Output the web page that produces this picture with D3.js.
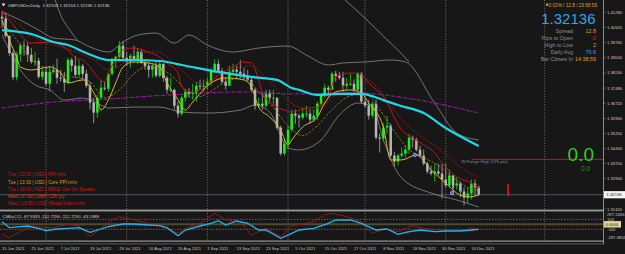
<!DOCTYPE html>
<html><head><meta charset="utf-8">
<script src="https://cdn.jsdelivr.net/npm/d3@7"></script>
<style>html,body{margin:0;padding:0;background:#171717;overflow:hidden}svg{display:block}</style>
</head><body><svg id="c" width="625" height="254"></svg>
<script>
// ---------- DATA ----------
const symbolTitle = "GBPUSDn,Daily  1.32153 1.32153 1.32136 1.32136";
const dateTickIdx = [0,8,16,24,32,40,48,56,64,72,80,88,96,104,112,120,128];
const dateTickLabels = ["15 Jun 2021","25 Jun 2021","7 Jul 2021","19 Jul 2021","29 Jul 2021","10 Aug 2021","20 Aug 2021","1 Sep 2021","13 Sep 2021","23 Sep 2021","5 Oct 2021","15 Oct 2021","27 Oct 2021","8 Nov 2021","18 Nov 2021","30 Nov 2021","10 Dec 2021"];
const separatorIdx = [12,34,56,78,99,121,148];
const priceTicks = [1.41280,1.40520,1.39760,1.39000,1.38240,1.37480,1.36720,1.35960,1.35200,1.34450,1.33700,1.32940,1.31420];
const currentPrice = 1.32136;
// open, high, low, close
const ohlc = [
[1.4106,1.4133,1.4050,1.4097],[1.4097,1.4128,1.4000,1.4010],[1.4010,1.4012,1.3910,1.3924],[1.3924,1.3935,1.3787,1.3802],
[1.3802,1.3930,1.3786,1.3917],[1.3917,1.3975,1.3880,1.3962],[1.3962,1.3986,1.3910,1.3958],[1.3958,1.3976,1.3880,1.3915],
[1.3915,1.3950,1.3870,1.3880],[1.3880,1.3930,1.3860,1.3885],[1.3885,1.3900,1.3795,1.3805],[1.3805,1.3845,1.3790,1.3830],
[1.3830,1.3850,1.3760,1.3770],[1.3770,1.3860,1.3730,1.3830],[1.3830,1.3865,1.3820,1.3840],[1.3840,1.3895,1.3770,1.3800],
[1.3800,1.3840,1.3780,1.3795],[1.3795,1.3830,1.3730,1.3775],[1.3775,1.3900,1.3770,1.3890],[1.3890,1.3900,1.3830,1.3860],
[1.3860,1.3910,1.3800,1.3815],[1.3815,1.3890,1.3800,1.3860],[1.3860,1.3870,1.3790,1.3820],[1.3820,1.3840,1.3750,1.3760],
[1.3760,1.3780,1.3640,1.3675],[1.3675,1.3700,1.3572,1.3625],[1.3625,1.3715,1.3600,1.3700],[1.3700,1.3785,1.3690,1.3750],
[1.3750,1.3780,1.3735,1.3745],[1.3745,1.3820,1.3730,1.3820],[1.3820,1.3900,1.3810,1.3890],[1.3890,1.3910,1.3850,1.3905],
[1.3905,1.3985,1.3880,1.3960],[1.3960,1.3983,1.3880,1.3900],[1.3900,1.3930,1.3860,1.3880],[1.3880,1.3920,1.3850,1.3910],
[1.3910,1.3960,1.3880,1.3890],[1.3890,1.3950,1.3870,1.3930],[1.3930,1.3940,1.3870,1.3875],[1.3875,1.3890,1.3840,1.3860],
[1.3860,1.3880,1.3800,1.3840],[1.3840,1.3870,1.3800,1.3860],[1.3860,1.3880,1.3800,1.3810],[1.3810,1.3880,1.3800,1.3870],
[1.3870,1.3870,1.3780,1.3800],[1.3800,1.3810,1.3720,1.3740],[1.3740,1.3800,1.3730,1.3740],[1.3740,1.3745,1.3640,1.3660],
[1.3660,1.3680,1.3600,1.3620],[1.3620,1.3710,1.3610,1.3700],[1.3700,1.3745,1.3680,1.3730],[1.3730,1.3750,1.3700,1.3720],
[1.3720,1.3770,1.3690,1.3725],[1.3725,1.3780,1.3680,1.3760],[1.3760,1.3790,1.3740,1.3755],[1.3755,1.3790,1.3730,1.3760],
[1.3760,1.3800,1.3740,1.3780],[1.3780,1.3850,1.3760,1.3830],[1.3830,1.3892,1.3825,1.3870],[1.3870,1.3890,1.3830,1.3835],
[1.3835,1.3850,1.3770,1.3780],[1.3780,1.3800,1.3740,1.3760],[1.3760,1.3860,1.3760,1.3830],[1.3830,1.3870,1.3820,1.3840],
[1.3840,1.3860,1.3800,1.3830],[1.3830,1.3890,1.3800,1.3820],[1.3820,1.3850,1.3790,1.3810],[1.3810,1.3840,1.3780,1.3790],
[1.3790,1.3800,1.3730,1.3740],[1.3740,1.3750,1.3640,1.3660],[1.3660,1.3700,1.3650,1.3670],[1.3670,1.3730,1.3640,1.3660],
[1.3660,1.3740,1.3650,1.3720],[1.3720,1.3740,1.3680,1.3700],[1.3700,1.3740,1.3660,1.3700],[1.3700,1.3700,1.3540,1.3550],
[1.3550,1.3560,1.3410,1.3420],[1.3420,1.3490,1.3410,1.3470],[1.3470,1.3560,1.3440,1.3540],[1.3540,1.3640,1.3530,1.3620],
[1.3620,1.3640,1.3570,1.3610],[1.3610,1.3620,1.3550,1.3600],[1.3600,1.3650,1.3590,1.3620],[1.3620,1.3660,1.3600,1.3620],
[1.3620,1.3640,1.3570,1.3590],[1.3590,1.3640,1.3580,1.3610],[1.3610,1.3680,1.3590,1.3670],[1.3670,1.3720,1.3660,1.3710],
[1.3710,1.3770,1.3700,1.3750],[1.3750,1.3760,1.3700,1.3740],[1.3740,1.3830,1.3740,1.3820],[1.3820,1.3835,1.3780,1.3810],
[1.3810,1.3830,1.3790,1.3800],[1.3800,1.3830,1.3730,1.3760],[1.3760,1.3800,1.3740,1.3770],[1.3770,1.3820,1.3760,1.3770],
[1.3770,1.3790,1.3730,1.3740],[1.3740,1.3830,1.3720,1.3820],[1.3820,1.3830,1.3670,1.3680],[1.3680,1.3700,1.3650,1.3660],
[1.3660,1.3690,1.3590,1.3610],[1.3610,1.3680,1.3600,1.3670],[1.3670,1.3690,1.3490,1.3500],[1.3500,1.3520,1.3425,1.3495],
[1.3495,1.3570,1.3480,1.3550],[1.3550,1.3610,1.3520,1.3560],[1.3560,1.3570,1.3400,1.3410],[1.3410,1.3430,1.3355,1.3380],
[1.3380,1.3420,1.3360,1.3410],[1.3410,1.3450,1.3400,1.3420],[1.3420,1.3460,1.3400,1.3440],[1.3440,1.3520,1.3420,1.3500],
[1.3500,1.3510,1.3450,1.3490],[1.3490,1.3500,1.3430,1.3440],[1.3440,1.3460,1.3400,1.3410],[1.3410,1.3440,1.3360,1.3370],
[1.3370,1.3380,1.3320,1.3330],[1.3330,1.3360,1.3310,1.3320],[1.3320,1.3370,1.3280,1.3330],[1.3330,1.3370,1.3310,1.3320],
[1.3320,1.3370,1.3195,1.3290],[1.3290,1.3370,1.3250,1.3260],[1.3260,1.3340,1.3250,1.3310],[1.3310,1.3310,1.3210,1.3260],
[1.3260,1.3300,1.3240,1.3270],[1.3270,1.3280,1.3200,1.3230],[1.3230,1.3250,1.3160,1.3200],[1.3200,1.3250,1.3170,1.3220],
[1.3220,1.3290,1.3190,1.3270],[1.3270,1.3290,1.3210,1.3250],[1.3250,1.3260,1.3210,1.32136]
];
// indicator lines, [bar index, price]
const maCyan = [[0,1.4039],[8,1.4019],[14,1.3979],[18,1.3964],[23,1.3924],[29,1.3889],[36,1.3889],[43,1.3884],[49,1.3864],[59,1.3829],[68,1.3804],[75,1.3789],[79,1.3749],[81,1.3739],[86,1.3714],[92,1.3719],[98,1.3719],[104,1.3688],[108,1.3663],[115,1.3623],[121,1.3548],[130,1.3458]];
const maMagenta = [[0,1.3648],[14,1.3678],[29,1.3693],[43,1.3711],[66,1.3729],[79,1.3719],[97,1.3724],[110,1.3699],[130,1.3623]];
const maRed = [[0,1.4130],[2,1.4089],[8,1.3974],[13,1.3979],[18,1.3939],[20,1.3899],[22,1.3889],[24,1.3854],[26,1.3804],[28,1.3779],[29,1.3824],[31,1.3889],[33,1.3939],[36,1.3949],[40,1.3929],[42,1.3914],[45,1.3874],[48,1.3824],[49,1.3754],[52,1.3729],[55,1.3749],[59,1.3814],[63,1.3854],[66,1.3879],[68,1.3874],[70,1.3789],[71,1.3724],[75,1.3653],[77,1.3638],[79,1.3628],[83,1.3648],[86,1.3653],[89,1.3704],[91,1.3804],[95,1.3824],[98,1.3814],[100,1.3774],[104,1.3704],[109,1.3538],[112,1.3498],[115,1.3463],[118,1.3423],[120,1.3373],[124,1.3303],[128,1.3272],[130,1.3247]];
const maRedSlow = [[0,1.4140],[5,1.4060],[10,1.3990],[15,1.3960],[20,1.3930],[25,1.3890],[29,1.3840],[33,1.3870],[37,1.3920],[42,1.3930],[46,1.3890],[50,1.3820],[54,1.3770],[58,1.3790],[63,1.3840],[68,1.3860],[72,1.3800],[76,1.3720],[80,1.3660],[85,1.3640],[89,1.3680],[93,1.3760],[98,1.3800],[102,1.3760],[106,1.3660],[110,1.3570],[114,1.3510],[118,1.3460],[122,1.3400],[126,1.3340],[130,1.3300]];
const maYellow = [[0,1.4089],[2,1.3989],[4,1.3904],[5,1.3854],[8,1.3839],[13,1.3854],[16,1.3824],[18,1.3774],[22,1.3789],[24,1.3754],[26,1.3688],[27,1.3638],[29,1.3688],[31,1.3774],[33,1.3854],[36,1.3879],[40,1.3874],[43,1.3854],[45,1.3774],[48,1.3690],[50,1.3638],[52,1.3678],[57,1.3774],[61,1.3799],[66,1.3789],[68,1.3754],[70,1.3653],[73,1.3603],[76,1.3538],[78,1.3463],[79,1.3488],[82,1.3553],[86,1.3603],[88,1.3673],[91,1.3729],[95,1.3739],[98,1.3724],[100,1.3673],[104,1.3553],[106,1.3388],[109,1.3388],[113,1.3413],[117,1.3338],[121,1.3272],[124,1.3222],[127,1.3202],[130,1.3212]];
const maYellowSlow = [[0,1.4080],[4,1.3990],[8,1.3890],[13,1.3840],[18,1.3810],[24,1.3780],[28,1.3700],[32,1.3740],[36,1.3820],[40,1.3860],[44,1.3840],[48,1.3780],[52,1.3700],[56,1.3720],[60,1.3770],[66,1.3800],[70,1.3730],[74,1.3650],[78,1.3560],[82,1.3510],[86,1.3560],[90,1.3640],[95,1.3710],[99,1.3720],[103,1.3640],[107,1.3530],[111,1.3440],[115,1.3400],[119,1.3360],[123,1.3300],[127,1.3250],[130,1.3235]];
const bandUpper = [[0,1.4130],[5,1.4089],[10,1.4039],[14,1.3999],[20,1.3989],[24,1.3954],[29,1.3929],[33,1.3979],[37,1.4014],[42,1.4024],[47,1.3974],[51,1.4014],[56,1.3964],[63,1.3929],[70,1.3949],[78,1.3959],[83,1.3914],[89,1.3864],[93,1.3874],[99,1.3879],[106,1.3889],[110,1.3879],[118,1.3673],[124,1.3523],[130,1.3488]];
const bandOuterLeft = [[14.5,1.4190],[16,1.4114],[18.5,1.4039],[20.5,1.3989]];
const bandOuterRight = [[93.5,1.4190],[99,1.4099],[104.5,1.3999],[108.5,1.3929],[111,1.3879]];
const bandLower = [[0,1.4014],[2,1.3939],[5,1.3839],[9,1.3764],[13,1.3739],[17,1.3688],[22,1.3698],[27,1.3663],[29,1.3648],[36,1.3653],[43,1.3653],[49,1.3628],[56,1.3623],[65,1.3638],[69,1.3663],[73,1.3628],[78,1.3448],[81,1.3438],[87,1.3488],[92,1.3613],[97,1.3673],[101,1.3658],[104,1.3488],[109,1.3297],[117,1.3222],[124,1.3187],[130,1.3152]];
const signalMarks = [[112.6,1.3413],[122.7,1.3222]];
const wRangeHigh = 1.3391;
const wRangeStartIdx = 128;
const redBar = [138,1.3207,1.3266];
// CCI sub window [bar index, value]
const cciFast = [[0,52],[2,-68],[5,-48],[7,-34],[10,-80],[12,-128],[15,-94],[18,-80],[21,-68],[24,-160],[27,-94],[29,-48],[33,6],[36,6],[40,-14],[43,-28],[45,-68],[48,-228],[50,-114],[54,-34],[57,20],[59,72],[61,-14],[64,66],[67,20],[70,-114],[72,-114],[76,-280],[79,-180],[81,-114],[85,-80],[89,20],[91,86],[95,86],[98,20],[100,-48],[102,-114],[105,-94],[108,-200],[110,-160],[114,-114],[118,-148],[121,-134],[125,-134],[128,-114],[130,-100]];
const cciSlow = [[0,-200],[2,-268],[5,-148],[8,-48],[14,-68],[18,0],[21,-28],[24,-248],[27,-80],[30,86],[32,152],[36,86],[40,20],[43,-28],[48,-180],[50,-80],[54,20],[58,220],[61,86],[65,52],[68,-214],[72,-80],[76,-248],[79,-28],[83,20],[85,52],[88,186],[90,220],[94,152],[98,52],[100,-114],[101,-180],[104,-94],[108,-148],[112,-28],[116,-94],[121,-114],[127,-114],[128,-68],[130,-114]];
const cciLevels = [100,-100];
const cciTitle = "CM6xCCI -87.9333 -112.7290 -112.7290 -43.5988";
const cciMax = 297.2466, cciMin = -297.3903;
const events = ["Tue | 13:30 | USD | PPI m/m","Tue | 13:30 | USD | Core PPI m/m","Tue | 19:00 | NZD | RBNZ Gov Orr Speaks","Wed | 07:00 | GBP | CPI y/y","Wed | 13:30 | USD | Retail Sales m/m"];
const eventColors = ["#d01616","#d99a12","#d01616","#e0401c","#d01616"];
const infoHeader = "0.02% / 12.8 / 23:58:59";
const infoPrice = "1.32136";
const infoLabels = ["Spread","Pips to Open","High to Low","Daily Avg","Bar Closes In"];
const infoValues = ["12.8","-2","2","76.8","14:38:59"];
const infoValueColors = ["#e39a1c","#e01a1a","#e39a1c","#2f9ee8","#e39a1c"];
const rangeLabel = "W Range High (176 pts)";
const bigValue = "0.0", smallValue = "0.0";

// ---------- CHART ----------
const svg = d3.select('#c');
const FONT = "'Liberation Sans', Arial, sans-serif";
const plotR = 603, mainBot = 210, subTop = 211.5, subBot = 241;
const x = d3.scaleLinear().domain([0,130]).range([2, 2 + 130*3.667]);
const y = d3.scaleLinear().domain([1.31370,1.41897]).range([210,0]);
const yc = d3.scaleLinear().domain([-300,300]).range([239.3,209.3]);

svg.append('rect').attr('width',625).attr('height',254).attr('fill','#171717');
const defs = svg.append('defs');
defs.append('clipPath').attr('id','cm').append('rect').attr('x',0).attr('y',0).attr('width',plotR).attr('height',mainBot);
defs.append('clipPath').attr('id','cs').append('rect').attr('x',0).attr('y',subTop+0.5).attr('width',plotR).attr('height',subBot-subTop-1);

// separators
svg.append('g').selectAll('line').data(separatorIdx).join('line')
  .attr('x1',d=>x(d)).attr('x2',d=>x(d)).attr('y1',0).attr('y2',subBot)
  .attr('stroke','#8a8a8a').attr('stroke-width',0.8).attr('stroke-dasharray','1,1.6');

const main = svg.append('g').attr('clip-path','url(#cm)');
// current price line
main.append('line').attr('x1',0).attr('x2',plotR).attr('y1',y(currentPrice)).attr('y2',y(currentPrice))
  .attr('stroke','#4a545c').attr('stroke-width',1);

const line = d3.line().x(d=>x(d[0])).y(d=>y(d[1])).curve(d3.curveMonotoneX);
function drawLine(data,color,w,dash){
  main.append('path').datum(data).attr('d',line).attr('fill','none').attr('stroke',color)
    .attr('stroke-width',w).attr('stroke-dasharray',dash||null);
}
// bands
drawLine(bandUpper,'#8c8c8c',0.8);
drawLine(bandLower,'#8c8c8c',0.8);
drawLine(bandOuterLeft,'#8c8c8c',0.8);
drawLine(bandOuterRight,'#8c8c8c',0.8);
drawLine(maMagenta,'#b21cc4',1,'3,1.2,1,1.2');

// candles
const cg = main.append('g');
ohlc.forEach((d,i)=>{
  const [o,h,l,c]=d; const up=c>=o;
  const col = up ? '#19f019' : '#b6b6b6';
  cg.append('line').attr('x1',x(i)).attr('x2',x(i)).attr('y1',y(h)).attr('y2',y(l))
    .attr('stroke', up ? '#1cc01c' : '#9a9a9a').attr('stroke-width',0.9);
  const top=y(Math.max(o,c)), bot=y(Math.min(o,c));
  cg.append('rect').attr('x',x(i)-1.25).attr('width',2.5).attr('y',top).attr('height',Math.max(0.8,bot-top)).attr('fill',col);
});

drawLine(maRedSlow,'#a81c1c',0.8,'2.5,1.5');
drawLine(maYellowSlow,'#9c8a1e',0.8,'2.5,1.5');
drawLine(maRed,'#cc1212',1);
drawLine(maYellow,'#d4bd1e',1);
drawLine(maCyan,'#1ed8e8',2.2);

// signal markers
main.selectAll('circle.sig').data(signalMarks).join('circle').attr('class','sig')
  .attr('cx',d=>x(d[0])).attr('cy',d=>y(d[1])).attr('r',1.7).attr('fill','#4d5cff').attr('stroke','#e0e0ff').attr('stroke-width',0.5);
main.selectAll('rect.sigo').data(signalMarks).join('rect').attr('class','sigo')
  .attr('x',d=>x(d[0])+0.5).attr('y',d=>y(d[1])-8).attr('width',1.6).attr('height',3).attr('fill','#e6a02a');

// W range high
main.append('line').attr('x1',x(wRangeStartIdx)).attr('x2',plotR).attr('y1',y(wRangeHigh)).attr('y2',y(wRangeHigh))
  .attr('stroke','#c8142e').attr('stroke-width',1);
svg.append('text').attr('x',x(wRangeStartIdx)-10).attr('y',y(wRangeHigh)+3.8).text(rangeLabel)
  .attr('font-family',FONT).attr('font-size',4.3).attr('fill','#8c8c8c');
// red vertical bar
main.append('line').attr('x1',x(redBar[0])).attr('x2',x(redBar[0])).attr('y1',y(redBar[1])).attr('y2',y(redBar[2]))
  .attr('stroke','#e01010').attr('stroke-width',1.8);

// big value
svg.append('text').attr('x',594).attr('y',161).attr('text-anchor','end').text(bigValue)
  .attr('font-family',FONT).attr('font-size',19).attr('fill','#2ecc2e');
svg.append('text').attr('x',590).attr('y',170.5).attr('text-anchor','end').text(smallValue)
  .attr('font-family',FONT).attr('font-size',6.3).attr('fill','#2a9a2a');

// title
svg.append('path').attr('d','M1.5,3.5 L5.5,3.5 L3.5,6.5 Z').attr('fill','#e0e0e0');
svg.append('text').attr('x',8).attr('y',6.5).text(symbolTitle)
  .attr('font-family',FONT).attr('font-size',4.4).attr('fill','#d4d4d4').attr('xml:space','preserve');

// info panel
svg.append('rect').attr('x',546).attr('y',3.6).attr('width',2.2).attr('height',2.2).attr('fill','#e39a1c');
svg.append('text').attr('x',597).attr('y',7).attr('text-anchor','end').text(infoHeader)
  .attr('font-family',FONT).attr('font-size',4.7).attr('fill','#e39a1c');
svg.append('text').attr('x',595.5).attr('y',24.4).attr('text-anchor','end').text(infoPrice)
  .attr('font-family',FONT).attr('font-size',15).attr('fill','#2aa6f0');
infoLabels.forEach((t,k)=>{
  const yy = 32.6 + k*7.05;
  svg.append('text').attr('x',573).attr('y',yy).attr('text-anchor','end').text(t)
    .attr('font-family',FONT).attr('font-size',5.4).attr('fill','#8e8e8e');
  svg.append('text').attr('x',596).attr('y',yy).attr('text-anchor','end').text(infoValues[k])
    .attr('font-family',FONT).attr('font-size',5.4).attr('fill',infoValueColors[k]);
});

// events
events.forEach((t,k)=>{
  svg.append('text').attr('x',8).attr('y',176.4 + k*7.1).text(t)
    .attr('font-family',FONT).attr('font-size',4.6).attr('fill',eventColors[k]);
});

// price axis
svg.append('line').attr('x1',plotR+0.5).attr('x2',plotR+0.5).attr('y1',0).attr('y2',244.5).attr('stroke','#8a8a8a').attr('stroke-width',1);
const pa = svg.append('g');
priceTicks.forEach(p=>{
  pa.append('line').attr('x1',plotR).attr('x2',plotR+2.5).attr('y1',y(p)).attr('y2',y(p)).attr('stroke','#9a9a9a').attr('stroke-width',0.6);
  pa.append('text').attr('x',607).attr('y',y(p)+1.5).text(p.toFixed(5))
    .attr('font-family',FONT).attr('font-size',4.2).attr('fill','#c8c8c8');
});
pa.append('rect').attr('x',604).attr('y',y(currentPrice)-3.6).attr('width',21).attr('height',7.2).attr('fill','#f4f4f4');
pa.append('text').attr('x',606.5).attr('y',y(currentPrice)+1.5).text(currentPrice.toFixed(5))
  .attr('font-family',FONT).attr('font-size',4.2).attr('fill','#111');

// sub window frame
svg.append('rect').attr('x',0).attr('y',209.6).attr('width',plotR+1).attr('height',1.8).attr('fill','#9a9a9a');
svg.append('rect').attr('x',0).attr('y',subBot-0.5).attr('width',plotR+1).attr('height',1.2).attr('fill','#9a9a9a');
svg.append('rect').attr('x',0).attr('y',243.5).attr('width',plotR+1).attr('height',0.8).attr('fill','#6a6a6a');

const sub = svg.append('g').attr('clip-path','url(#cs)');
sub.append('line').attr('x1',0).attr('x2',plotR).attr('y1',yc(0)).attr('y2',yc(0)).attr('stroke','#4e4a30').attr('stroke-width',2);
cciLevels.forEach(v=>{
  sub.append('line').attr('x1',0).attr('x2',plotR).attr('y1',yc(v)).attr('y2',yc(v))
    .attr('stroke','#8a8a8a').attr('stroke-width',0.7).attr('stroke-dasharray','1.5,1.5');
});
const lineC = d3.line().x(d=>x(d[0])).y(d=>yc(d[1])).curve(d3.curveLinear);
sub.append('path').datum(cciSlow).attr('d',lineC).attr('fill','none').attr('stroke','#a81414').attr('stroke-width',0.9);
sub.append('path').datum(cciFast).attr('d',lineC).attr('fill','none').attr('stroke','#1eb4ee').attr('stroke-width',1.3);
svg.append('text').attr('x',2.5).attr('y',217.6).text(cciTitle)
  .attr('font-family',FONT).attr('font-size',4.35).attr('fill','#d0d0d0');

// sub axis labels
const sa = svg.append('g').attr('font-family',FONT).attr('font-size',4.2).attr('fill','#c8c8c8');
sa.append('text').attr('x',607).attr('y',215.8).text(cciMax.toFixed(4));
cciLevels.forEach(v=>{ sa.append('text').attr('x',607).attr('y',yc(v)+1.3).text(String(v)); });
sa.append('text').attr('x',607).attr('y',239).text(cciMin.toFixed(4));
sa.append('rect').attr('x',604).attr('y',yc(0)-3.2).attr('width',17).attr('height',6.4).attr('fill','#e6d89a');
sa.append('text').attr('x',605.5).attr('y',yc(0)+1.5).text((0).toFixed(4)).attr('fill','#222');

// date axis
const da = svg.append('g');
dateTickIdx.forEach((i,k)=>{
  da.append('text').attr('x',x(i)).attr('y',249.6).text(dateTickLabels[k])
    .attr('font-family',FONT).attr('font-size',4.1).attr('fill','#c4c4c4');
});
</script></body></html>
